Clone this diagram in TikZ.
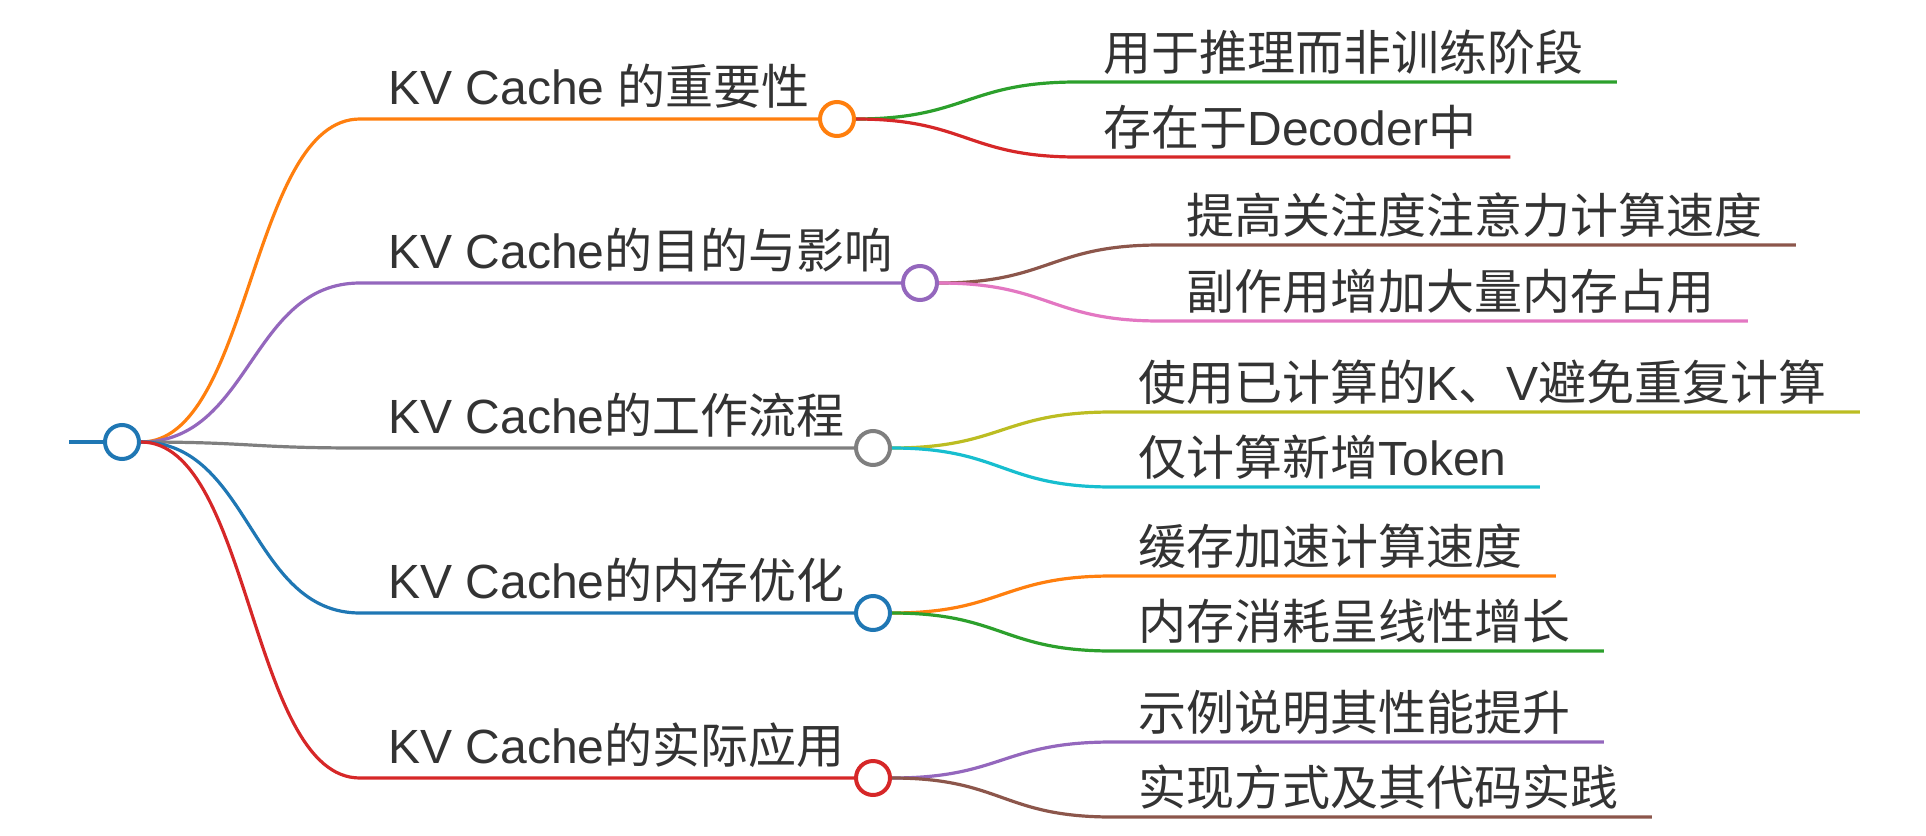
\documentclass[tikz,border=0pt]{standalone}
\usepackage{fontspec}
\setmainfont{Liberation Sans}
\newfontfamily\cjk{Noto Sans CJK SC}
\newcommand{\zh}[1]{{\cjk #1}}
\usepackage{xcolor}
\usepackage{tikz}
\usetikzlibrary{calc}

\definecolor{cblue}{HTML}{1F77B4}
\definecolor{corange}{HTML}{FF7F0E}
\definecolor{cgreen}{HTML}{2CA02C}
\definecolor{cred}{HTML}{D62728}
\definecolor{cpurple}{HTML}{9467BD}
\definecolor{cbrown}{HTML}{8C564B}
\definecolor{cpink}{HTML}{E377C2}
\definecolor{cgray}{HTML}{7F7F7F}
\definecolor{colive}{HTML}{BCBD22}
\definecolor{ccyan}{HTML}{17BECF}
\definecolor{ctext}{HTML}{333333}

\tikzset{
    branch/.style={line width=1.6pt},
    knot/.style={circle, draw, fill=white, line width=2pt, minimum size=17pt, inner sep=0pt},
    topic/.style={anchor=base west, inner sep=0pt, text=ctext, font=\fontsize{24}{28}\selectfont},
    leaf/.style={topic}
}

\begin{document}
\begin{tikzpicture}[x=0.5pt, y=-0.5pt]
    \useasboundingbox (0,0) rectangle (1926,835);

    %root
    \coordinate (s) at (69,442);
    \node[knot, draw=cblue] (root) at (122,442) {};
    \draw[branch, cblue] (s) -- (root);

    %main topics
    \foreach \i/\y/\kx/\col in {1/119/837/corange, 2/283/920/cpurple, 3/448/873/cgray, 4/613/873/cblue, 5/778/873/cred}{
        \coordinate (b\i) at (360,\y);
        \node[knot, draw=\col] (k\i) at (\kx,\y) {};
        \draw[branch, \col] (root.east) .. controls +(110,0) and +(-110,0) .. (b\i) -- (k\i);
    }

    %topic labels
    \node[topic] (t1) at (388,104) {KV Cache \zh{的重要性}};
    \node[topic] (t2) at (388,268) {KV Cache\zh{的目的与影响}};
    \node[topic] (t3) at (388,433) {KV Cache\zh{的工作流程}};
    \node[topic] (t4) at (388,598) {KV Cache\zh{的内存优化}};
    \node[topic] (t5) at (388,763) {KV Cache\zh{的实际应用}};

    %leaves
    \foreach \pa/\ch/\x/\y/\col/\txt in {
        1/1/1077/82/cgreen/{\zh{用于推理而非训练阶段}},
        1/2/1077/157/cred/{\zh{存在于}Decoder\zh{中}},
        2/1/1160/245/cbrown/{\zh{提高关注度注意力计算速度}},
        2/2/1160/321/cpink/{\zh{副作用增加大量内存占用}},
        3/1/1112/412/colive/{\zh{使用已计算的}K\zh{、}V\zh{避免重复计算}},
        3/2/1112/487/ccyan/{\zh{仅计算新增}Token},
        4/1/1112/576/corange/{\zh{缓存加速计算速度}},
        4/2/1112/651/cgreen/{\zh{内存消耗呈线性增长}},
        5/1/1112/742/cpurple/{\zh{示例说明其性能提升}},
        5/2/1112/817/cbrown/{\zh{实现方式及其代码实践}}}{
        \coordinate (c\pa\ch) at (\x,\y);
        \node[leaf] (n\pa\ch) at ([xshift=13pt,yshift=6pt]c\pa\ch) {\txt};
        \draw[branch, \col] (k\pa.east) .. controls +(110,0) and +(-110,0) .. (c\pa\ch)
            -- ($(n\pa\ch.east |- c\pa\ch)+(33,0)$);
    }

\end{tikzpicture}
\end{document}
